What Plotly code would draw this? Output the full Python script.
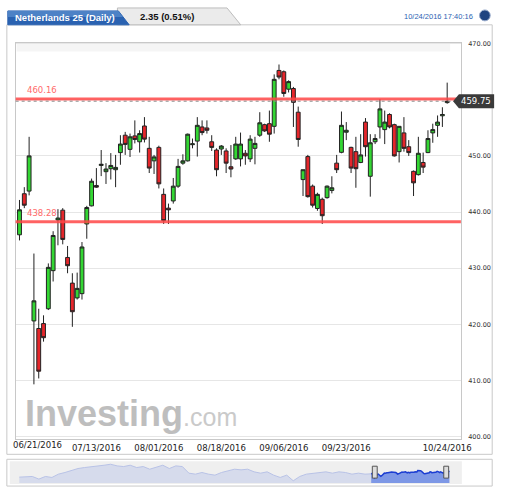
import numpy as np
import pandas as pd
import plotly.graph_objects as go

W, H = 512, 494  # reference frame the layout coordinates below are measured in

# daily candles, 06/21/2016 .. 10/24/2016 (business days)
dates = pd.bdate_range("2016-06-21", "2016-10-24").strftime("%m/%d/%Y").tolist()

opens = [435.94, 443.26, 443.73, 420.59, 419.24, 420.12, 422.76, 429.55, 438.58, 440.33,
         431.90, 427.33, 424.69, 425.45, 437.87, 441.10, 444.73, 448.30, 447.19, 447.72,
         447.54, 450.59, 453.69, 451.17, 453.57, 452.52, 455.33, 451.35, 449.12, 451.52,
         443.15, 440.69, 441.97, 444.61, 448.71, 449.12, 452.00, 452.64, 455.16, 454.98,
         452.52, 451.05, 451.23, 450.88, 448.07, 449.47, 449.47, 450.47, 449.47, 451.35,
         453.69, 455.57, 455.74, 455.27, 465.23, 465.00, 461.89, 462.01, 457.79, 445.78,
         449.88, 444.61, 440.63, 442.27, 442.56, 443.85, 448.71, 450.64, 454.22, 451.52,
         450.76, 448.83, 456.03, 446.37, 452.52, 455.16, 454.69, 457.38, 455.57, 450.76,
         454.10, 451.64, 447.25, 446.66, 448.83, 450.59, 454.10, 455.45, 457.15, 459.50]
highs = [442.15, 444.43, 453.40, 432.60, 422.76, 421.59, 430.84, 436.58, 440.51, 440.69,
         433.95, 429.09, 429.20, 434.65, 441.10, 445.96, 447.83, 451.05, 448.71, 450.50,
         450.18, 453.69, 454.28, 453.98, 456.33, 454.57, 456.91, 453.40, 450.18, 451.82,
         444.20, 441.50, 446.07, 449.47, 450.29, 453.98, 453.10, 456.91, 456.33, 456.33,
         453.69, 451.35, 451.93, 451.35, 451.93, 453.40, 454.16, 451.05, 453.69, 453.40,
         457.79, 455.74, 458.08, 464.53, 466.29, 465.23, 463.47, 462.30, 458.79, 447.54,
         450.18, 444.90, 443.44, 442.56, 444.73, 446.37, 450.18, 457.91, 456.03, 451.64,
         453.40, 453.87, 456.74, 453.87, 453.87, 460.13, 458.08, 457.60, 455.74, 455.30,
         456.91, 452.81, 447.40, 453.40, 450.59, 454.57, 455.74, 457.21, 458.67, 463.06]
lows = [434.94, 440.69, 442.97, 409.29, 410.34, 416.90, 422.53, 427.62, 434.07, 434.24,
        429.09, 419.54, 424.40, 424.40, 435.24, 441.00, 444.30, 446.40, 445.00, 445.80,
        444.43, 448.42, 450.18, 449.80, 452.23, 450.60, 452.40, 446.95, 446.78, 444.20,
        437.87, 437.87, 441.50, 444.30, 448.42, 449.00, 451.35, 449.88, 453.69, 453.98,
        450.88, 446.37, 450.18, 446.95, 446.19, 449.30, 448.13, 448.42, 448.90, 448.50,
        453.40, 454.28, 452.52, 453.98, 463.65, 460.54, 461.31, 455.16, 451.64, 442.85,
        442.56, 440.80, 440.22, 437.87, 442.38, 443.32, 446.95, 450.47, 452.81, 446.95,
        444.32, 448.71, 449.88, 442.74, 452.11, 453.10, 452.11, 454.90, 449.88, 448.83,
        450.76, 450.00, 442.85, 446.50, 446.95, 450.50, 452.34, 453.40, 455.16, 459.30]
closes = [440.39, 441.21, 450.00, 424.17, 411.63, 417.60, 430.14, 435.82, 438.93, 435.12,
          430.43, 422.23, 426.39, 433.77, 440.80, 445.49, 444.43, 448.50, 447.66, 448.30,
          447.95, 452.11, 452.05, 453.40, 452.93, 453.98, 452.99, 447.83, 449.82, 445.02,
          438.46, 440.39, 444.61, 448.13, 449.12, 453.87, 452.15, 455.45, 454.16, 454.57,
          451.52, 447.54, 451.76, 448.71, 447.66, 452.11, 452.11, 450.00, 452.99, 452.23,
          455.90, 454.45, 453.87, 463.65, 464.06, 461.13, 463.24, 459.55, 452.93, 447.54,
          442.74, 441.21, 443.15, 439.34, 444.61, 444.32, 447.54, 455.45, 454.57, 447.83,
          447.72, 450.18, 451.64, 452.34, 453.10, 458.38, 456.03, 455.16, 450.00, 455.27,
          451.35, 450.59, 445.20, 450.47, 448.00, 453.10, 454.69, 456.03, 457.38, 459.75]

levels = [460.16, 438.28]
y_ticks = [400, 410, 420, 430, 440, 450, 460, 470]
x_tick_labels = ["07/13/2016", "08/01/2016", "08/18/2016", "09/06/2016", "09/23/2016", "10/24/2016"]
first_label = "06/21/2016"

# navigator: longer history before the visible window (approx. levels)
nav_hist = [416.4, 421.2, 421.2, 402.0, 421.2, 414.0, 438.0, 450.0, 466.8, 478.8,
            486.0, 490.8, 493.2, 502.8, 510.0, 498.0, 493.2, 502.8, 486.0, 493.2,
            474.0, 486.0, 502.8, 478.8, 498.0, 493.2, 445.2, 438.0, 450.0, 438.0,
            430.8, 450.0, 462.0, 474.0, 469.2, 474.0, 454.8, 445.2, 454.8, 430.8,
            414.0, 430.8, 390.0, 421.2, 438.0, 445.2, 450.0, 454.8, 445.2, 454.8,
            450.0, 438.0, 445.2, 438.0]


def px(x):
    return x / W


def py(y):
    return 1 - y / H


fig = go.Figure()

fig.add_trace(go.Candlestick(
    x=dates, open=opens, high=highs, low=lows, close=closes,
    increasing=dict(line=dict(color='#222222', width=1), fillcolor='#33d633'),
    decreasing=dict(line=dict(color='#222222', width=1), fillcolor='#e5262b'),
    whiskerwidth=0, showlegend=False, hoverinfo='skip'))

# navigator series
nav_x = list(np.linspace(-400, -7, len(nav_hist))) + [0]
fig.add_trace(go.Scatter(x=nav_x, y=nav_hist + [closes[0]], mode='lines', fill='tozeroy',
                         fillcolor='#d6dbec', line=dict(color='#b8c2e6', width=1),
                         xaxis='x2', yaxis='y2', showlegend=False, hoverinfo='skip'))
fig.add_trace(go.Scatter(x=list(range(len(closes))), y=closes, mode='lines', fill='tozeroy',
                         fillcolor='#7e98e6', line=dict(color='#1c3ed2', width=1.5),
                         xaxis='x2', yaxis='y2', showlegend=False, hoverinfo='skip'))

last = closes[-1]

shapes = []
# outer panel + navigator box
shapes.append(dict(type='rect', xref='paper', yref='paper', x0=px(7), x1=px(503), y0=py(455), y1=py(22),
                   line=dict(color='#c9c9c9', width=1), fillcolor='white', layer='below'))
shapes.append(dict(type='rect', xref='paper', yref='paper', x0=px(7), x1=px(503), y0=py(487), y1=py(460),
                   line=dict(color='#c9c9c9', width=1), fillcolor='white', layer='below'))
shapes.append(dict(type='rect', xref='paper', yref='paper', x0=px(10), x1=px(472), y0=py(485), y1=py(462),
                   line=dict(width=0), fillcolor='#efefef', layer='below'))
# header tabs
gray_tab = "M %f,%f L %f,%f L %f,%f L %f,%f Z" % (px(120), py(22), px(120), py(5), px(232), py(5), px(246), py(22))
shapes.append(dict(type='path', xref='paper', yref='paper', path=gray_tab,
                   fillcolor='#ebebeb', line=dict(color='#bdbdbd', width=1)))
blue_tab = "M %f,%f L %f,%f L %f,%f L %f,%f Z" % (px(8), py(22), px(8), py(8), px(121), py(8), px(132), py(22))
shapes.append(dict(type='path', xref='paper', yref='paper', path=blue_tab,
                   fillcolor='#2a62b1', line=dict(color='#2a62b1', width=1)))
blue_top = "M %f,%f L %f,%f L %f,%f L %f,%f Z" % (px(8), py(14), px(8), py(8), px(121), py(8), px(125.5), py(14))
shapes.append(dict(type='path', xref='paper', yref='paper', path=blue_top,
                   fillcolor='#4d82c6', line=dict(width=0)))
shapes.append(dict(type='circle', xref='paper', yref='paper', x0=px(490), x1=px(501), y0=py(18), y1=py(7),
                   fillcolor='#1e4380', line=dict(color='#9aaccc', width=1)))
# faint shade at the top of the plot
shapes.append(dict(type='rect', xref='paper', yref='paper', x0=px(17), x1=px(460), y0=py(49), y1=py(41),
                   fillcolor='#f5f5f5', line=dict(width=0), layer='below'))
# support / resistance lines
for lv in levels:
    shapes.append(dict(type='line', xref='paper', yref='y', x0=px(16), x1=px(471), y0=lv, y1=lv,
                       line=dict(color='rgba(255,70,70,0.85)', width=3)))
# last price dotted line + tag
shapes.append(dict(type='line', xref='paper', yref='y', x0=px(16), x1=px(471), y0=last, y1=last,
                   line=dict(color='#8a8a8a', width=1, dash='dot')))
h = 7 / 5.657
tag = "M %f,%f L %f,%f L %f,%f L %f,%f L %f,%f Z" % (
    px(463), last, px(469), last + h, px(505), last + h, px(505), last - h, px(469), last - h)
shapes.append(dict(type='path', xref='paper', yref='y', path=tag, fillcolor='#3a3a3a', line=dict(width=0)))
# navigator handles
for hx in (383, 456):
    shapes.append(dict(type='rect', xref='paper', yref='paper', x0=px(hx - 2.5), x1=px(hx + 2.5),
                       y0=py(479), y1=py(467), fillcolor='#dddddd', line=dict(color='#555555', width=1)))

ann = []
ann.append(dict(text='<b>Netherlands 25 (Daily)</b>', x=px(13), y=py(15), xref='paper', yref='paper',
                xanchor='left', yanchor='middle', showarrow=False,
                font=dict(family='Liberation Sans, Arial', size=9.5, color='white')))
ann.append(dict(text='<b>2.35 (0.51%)</b>', x=px(141), y=py(14), xref='paper', yref='paper',
                xanchor='left', yanchor='middle', showarrow=False,
                font=dict(family='Liberation Sans, Arial', size=9.5, color='#111111')))
ann.append(dict(text='10/24/2016 17:40:16', x=px(485), y=py(14), xref='paper', yref='paper',
                xanchor='right', yanchor='middle', showarrow=False,
                font=dict(family='Liberation Sans, Arial', size=7.5, color='#2c5fb3')))
for lv in levels:
    ann.append(dict(text='%.2f' % lv, x=px(26), y=lv, xref='paper', yref='y', yshift=9,
                    xanchor='left', yanchor='middle', showarrow=False,
                    font=dict(family='DejaVu Sans', size=8.5, color='#ff6a6a')))
ann.append(dict(text='%.2f' % last, x=px(486), y=last, xref='paper', yref='y',
                xanchor='center', yanchor='middle', showarrow=False,
                font=dict(family='DejaVu Sans', size=8.5, color='white')))
ann.append(dict(text=first_label, x=px(11), y=py(446), xref='paper', yref='paper',
                xanchor='left', yanchor='middle', showarrow=False,
                font=dict(family='DejaVu Sans', size=8.5, color='#222222')))
ann.append(dict(text="<b>Investing</b><span style='font-size:25px;color:#cacaca'>.com</span>",
                x=px(23), y=py(414), xref='paper', yref='paper', xanchor='left', yanchor='middle',
                showarrow=False, font=dict(family='Liberation Sans, Arial', size=36, color='#bebebe')))

# the price tag hides the axis label right behind it
y_text = ['' if abs(v - last) < 2 else '%.2f' % v for v in y_ticks]

# figure fills the browser window; everything is placed in paper fractions
fig.update_layout(
    autosize=True,
    margin=dict(l=0, r=0, t=0, b=0),
    paper_bgcolor='white', plot_bgcolor='rgba(0,0,0,0)',
    boxgap=0.2, boxgroupgap=0,
    shapes=shapes, annotations=ann,
    xaxis=dict(type='category', domain=[px(16), px(471)], range=[-0.8, 91.85],
               rangeslider=dict(visible=False), showgrid=False, zeroline=False,
               tickvals=x_tick_labels, ticktext=x_tick_labels, ticks='',
               tickfont=dict(family='DejaVu Sans', size=8.5, color='#222222'),
               showline=True, mirror=True, linecolor='#c8c8c8', linewidth=1),
    yaxis=dict(side='right', domain=[py(440), py(40)], range=[399.47, 470.18],
               tickvals=y_ticks, ticktext=y_text, ticks='',
               ticklabelstandoff=5,
               tickfont=dict(family='DejaVu Sans', size=6.5, color='#333333'),
               gridcolor='#e6e6e6', zeroline=False,
               showline=True, mirror=True, linecolor='#c8c8c8', linewidth=1),
    xaxis2=dict(domain=[px(10), px(472)], range=[-410.8, 103.1], anchor='y2', visible=False),
    yaxis2=dict(domain=[py(484), py(462)], range=[373.2, 531.6], anchor='x2', visible=False),
)

page_fix = (
    "document.documentElement.style.cssText='margin:0;padding:0;overflow:hidden;';"
    "document.body.style.cssText='margin:0;padding:0;overflow:hidden;';"
)
fig.write_html("out.html", default_width='100vw', default_height='100vh',
               config={'displayModeBar': False, 'responsive': True}, post_script=page_fix)
